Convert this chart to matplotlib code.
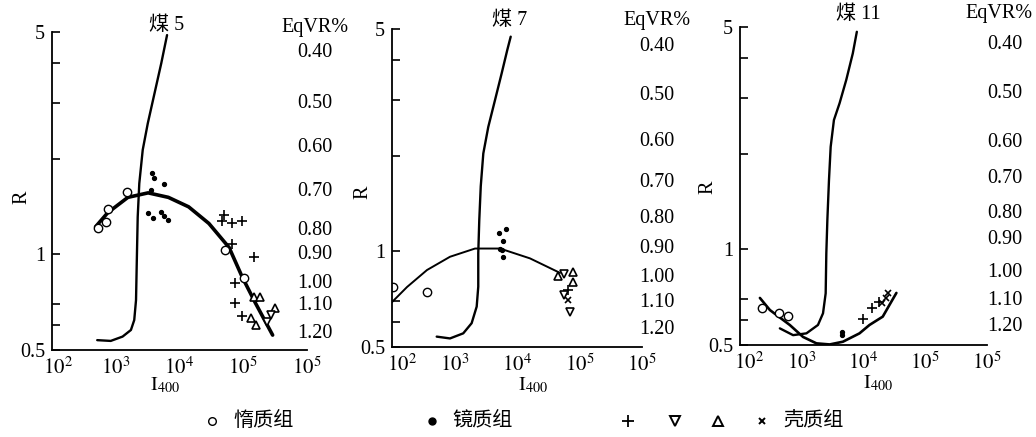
import matplotlib
matplotlib.use("Agg")
import matplotlib.pyplot as plt
from matplotlib.lines import Line2D
from matplotlib.transforms import blended_transform_factory, ScaledTranslation

plt.rcParams['font.family'] = ['Liberation Serif', 'Noto Sans CJK SC']
plt.rcParams['mathtext.fontset'] = 'stix'

# ---- data ----
x_ticks = [1e2, 1e3, 1e4, 1e5, 1e6]
x_ticklabels = ['$10^2$', '$10^3$', '$10^4$', '$10^5$', '$10^5$']
eqvr_labels = ['0.40', '0.50', '0.60', '0.70', '0.80', '0.90', '1.00', '1.10', '1.20']

# coal 5
c5_path_I = [512, 834, 1280, 1730, 1950, 2080, 2130, 2210, 2340, 2650, 3180, 4060, 5180, 6380]
c5_path_R = [0.537, 0.534, 0.551, 0.578, 0.621, 0.718, 0.914, 1.31, 1.67, 2.13, 2.58, 3.21, 3.99, 4.89]
c5_fit_I = [482, 746, 1550, 3220, 6690, 13900, 28900, 60000, 96400, 155000, 289000]
c5_fit_R = [1.22, 1.35, 1.51, 1.56, 1.51, 1.41, 1.25, 1.05, 0.848, 0.703, 0.557]
c5_inert_I = [518, 694, 746, 1500, 52400, 102000]
c5_inert_R = [1.21, 1.26, 1.39, 1.57, 1.03, 0.84]
c5_vit_I = [3730, 4010, 3590, 5780, 3220, 3870, 5180, 5780, 6690]
c5_vit_R = [1.80, 1.74, 1.59, 1.66, 1.35, 1.30, 1.36, 1.32, 1.28]
c5_plus_I = [49400, 46400, 66900, 94000, 66900, 148000, 75500, 75500, 94000]
c5_plus_R = [1.33, 1.27, 1.25, 1.27, 1.08, 0.983, 0.81, 0.701, 0.639]
c5_up_I = [148000, 182000, 318000, 131000, 157000]
c5_up_R = [0.736, 0.736, 0.676, 0.629, 0.599]
c5_down_I = [272000, 240000]
c5_down_R = [0.644, 0.614]
c5_x_I = []
c5_x_R = []
c5_eqvr_R = [4.30, 2.99, 2.17, 1.57, 1.19, 0.995, 0.81, 0.69, 0.565]

# coal 7
c7_path_I = [519, 847, 1380, 1880, 2265, 2400, 2400, 2490, 2630, 2890, 3470, 4450, 5690, 7000, 7930]
c7_path_R = [0.539, 0.532, 0.552, 0.594, 0.670, 0.774, 0.986, 1.25, 1.60, 2.03, 2.46, 2.99, 3.63, 4.30, 4.73]
c7_fit_I = [100, 174, 363, 847, 2130, 5350, 16100, 48800]
c7_fit_R = [0.692, 0.772, 0.873, 0.961, 1.02, 1.02, 0.95, 0.855]
c7_inert_I = [104, 363]
c7_inert_R = [0.772, 0.745]
c7_vit_I = [6670, 5150, 5970, 5350, 5750, 5970]
c7_vit_R = [1.175, 1.14, 1.08, 1.02, 1.01, 0.959]
c7_plus_I = [64700]
c7_plus_R = [0.756]
c7_up_I = [45300, 78700, 78700]
c7_up_R = [0.836, 0.861, 0.80]
c7_down_I = [56500, 56500, 70500]
c7_down_R = [0.848, 0.729, 0.644]
c7_x_I = [66000]
c7_x_R = [0.703]
c7_eqvr_R = [4.39, 3.10, 2.21, 1.65, 1.27, 1.02, 0.830, 0.692, 0.566]

# coal 11
c11_path_I = [442, 724, 1190, 1830, 2210, 2440, 2500, 2600, 2760, 2940, 3320, 4100, 5260, 6710, 7800]
c11_path_R = [0.564, 0.537, 0.544, 0.578, 0.629, 0.727, 0.971, 1.24, 1.65, 2.10, 2.55, 2.88, 3.41, 4.13, 4.83]
c11_fit_I = [210, 305, 640, 1050, 1730, 2830, 4640, 8610, 12500, 20500, 26300, 34100]
c11_fit_R = [0.703, 0.644, 0.578, 0.530, 0.506, 0.502, 0.512, 0.544, 0.578, 0.614, 0.668, 0.729]
c11_inert_I = [226, 426, 595]
c11_inert_R = [0.654, 0.630, 0.617]
c11_vit_I = [4420, 4420]
c11_vit_R = [0.549, 0.537]
c11_plus_I = [9640, 13500, 18100]
c11_plus_R = [0.604, 0.654, 0.682]
c11_up_I = []
c11_up_R = []
c11_down_I = []
c11_down_R = []
c11_x_I = [20200, 23500, 25300]
c11_x_R = [0.678, 0.703, 0.729]
c11_eqvr_R = [4.39, 3.10, 2.17, 1.67, 1.30, 1.07, 0.848, 0.692, 0.570]

W, H = 1036, 437
fig = plt.figure(figsize=(W / 100, H / 100), dpi=100)
FS = 14.5


def px_rect(l, r, t, b):
    return [l / W, (H - b) / H, (r - l) / W, (b - t) / H]


def draw_panel(rect, title, path, fit, inert, vit, plus, up, down, cross, eqvr_R,
               fit_lw, pos, first_dx):
    ax = fig.add_axes(rect)
    ax.set_xscale('log')
    ax.set_yscale('log')
    ax.set_xlim(1e2, 1e6)
    ax.set_ylim(0.5, 5)
    for s in ('top', 'right'):
        ax.spines[s].set_visible(False)
    for s in ('left', 'bottom'):
        ax.spines[s].set_linewidth(1.3)

    ax.plot(path[0], path[1], color='black', lw=1.7, solid_capstyle='round',
            solid_joinstyle='round')
    ax.plot(fit[0], fit[1], color='black', lw=fit_lw, solid_capstyle='round',
            solid_joinstyle='round')

    mk = dict(linestyle='none', color='black')
    ax.plot(inert[0], inert[1], marker='o', ms=6, mfc='white', mew=1.0, **mk)
    ax.plot(vit[0], vit[1], marker='o', ms=2.8, **mk)
    ax.plot(plus[0], plus[1], marker='+', ms=7, mew=1.2, **mk)
    ax.plot(up[0], up[1], marker='^', ms=6, mfc='white', mew=1.2, **mk)
    ax.plot(down[0], down[1], marker='v', ms=6, mfc='white', mew=1.2, **mk)
    ax.plot(cross[0], cross[1], marker='x', ms=5, mew=1.2, **mk)

    ax.set_xticks(x_ticks)
    ax.set_xticklabels(x_ticklabels)
    ax.xaxis.set_minor_locator(matplotlib.ticker.NullLocator())
    ax.tick_params(axis='x', length=0, pad=5, labelsize=FS + 0.5)
    # the first decade label sits a little right of the spine in the scan
    first = ax.xaxis.get_major_ticks()[0].label1
    first.set_transform(first.get_transform() +
                        ScaledTranslation(first_dx / 100, 0, fig.dpi_scale_trans))
    ax.set_yticks([0.5, 1, 5])
    ax.set_yticklabels(['0.5', '1', '5'])
    ax.set_yticks([0.6, 0.7, 2, 3, 4], minor=True)
    ax.yaxis.set_minor_formatter(matplotlib.ticker.NullFormatter())
    ax.tick_params(axis='y', which='both', direction='in', length=6, width=1.2,
                   labelsize=FS, pad=5)

    tx, ty, rx, ry, lx, ly, ex, hx, hy = pos
    ax.text(tx, ty, title, transform=ax.transAxes, ha='center', va='center',
            fontsize=FS)
    ax.text(rx, ry, 'R', transform=ax.transAxes, ha='center', va='center',
            rotation=90, fontsize=FS)
    ax.text(lx, ly, '$\\mathrm{I}_{400}$', transform=ax.transAxes,
            ha='center', va='center', fontsize=FS)
    ax.text(hx, hy, 'EqVR%', transform=ax.transAxes, ha='center',
            va='center', fontsize=FS)
    trans = blended_transform_factory(ax.transAxes, ax.transData)
    for lab, r in zip(eqvr_labels, eqvr_R):
        ax.text(ex, r, lab, transform=trans, ha='center', va='center',
                fontsize=FS)
    return ax


draw_panel(px_rect(52, 307, 32, 350), '煤 5',
           (c5_path_I, c5_path_R), (c5_fit_I, c5_fit_R),
           (c5_inert_I, c5_inert_R), (c5_vit_I, c5_vit_R),
           (c5_plus_I, c5_plus_R), (c5_up_I, c5_up_R),
           (c5_down_I, c5_down_R), (c5_x_I, c5_x_R), c5_eqvr_R, 2.6,
           (0.45, 1.022, -0.118, 0.48, 0.443, -0.11, 1.03, 1.03, 1.013), 6)
draw_panel(px_rect(392, 642, 29, 347), '煤 7',
           (c7_path_I, c7_path_R), (c7_fit_I, c7_fit_R),
           (c7_inert_I, c7_inert_R), (c7_vit_I, c7_vit_R),
           (c7_plus_I, c7_plus_R), (c7_up_I, c7_up_R),
           (c7_down_I, c7_down_R), (c7_x_I, c7_x_R), c7_eqvr_R, 1.4,
           (0.47, 1.028, -0.116, 0.487, 0.564, -0.12, 1.06, 1.06, 1.028), 10)
draw_panel(px_rect(740, 987, 27, 345), '煤 11',
           (c11_path_I, c11_path_R), (c11_fit_I, c11_fit_R),
           (c11_inert_I, c11_inert_R), (c11_vit_I, c11_vit_R),
           (c11_plus_I, c11_plus_R), (c11_up_I, c11_up_R),
           (c11_down_I, c11_down_R), (c11_x_I, c11_x_R), c11_eqvr_R, 1.9,
           (0.478, 1.038, -0.13, 0.497, 0.559, -0.12, 1.073, 1.05, 1.044), 9)

# legend row along the bottom
ly = (H - 421) / H
legend_marks = [
    (212, dict(marker='o', ms=5.5, mfc='white', mew=1.0)),
    (432, dict(marker='o', ms=5)),
    (628, dict(marker='+', ms=8, mew=1.3)),
    (675, dict(marker='v', ms=6.5, mfc='white', mew=1.4)),
    (718, dict(marker='^', ms=6.5, mfc='white', mew=1.4)),
    (762, dict(marker='x', ms=5, mew=1.4)),
]
for xp, style in legend_marks:
    fig.add_artist(Line2D([xp / W], [ly], transform=fig.transFigure,
                          color='black', linestyle='none', **style))
for xp, lab in [(233, '惰质组'), (452, '镜质组'), (783, '壳质组')]:
    fig.text(xp / W, ly, lab, ha='left', va='center', fontsize=FS)

fig.savefig('out.png', dpi=100)
